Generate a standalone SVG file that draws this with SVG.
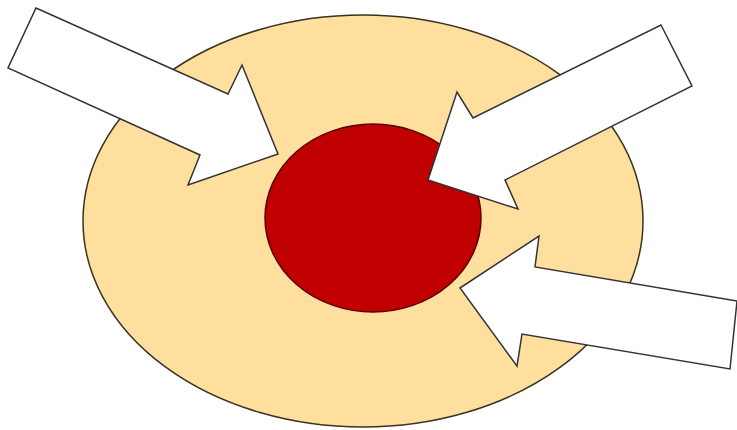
<svg xmlns="http://www.w3.org/2000/svg" width="737" height="430" viewBox="0 0 737 430">
<style>
.arrow{fill:#ffffff;stroke:#333333;stroke-width:1.5;stroke-linejoin:miter}
</style>
<rect width="737" height="430" fill="#ffffff"/>
<g id="outer">
<ellipse cx="363" cy="221" rx="280" ry="206" fill="#fedf9e" stroke="#3a3320" stroke-width="1.5"/>
</g>
<g id="core">
<ellipse cx="373" cy="218" rx="108" ry="94" fill="#c00000" stroke="#5a0000" stroke-width="1.5"/>
</g>
<g id="connectors">
<polygon class="arrow" points="36,8 228,94 242,65 278,154 188,185 200,155 8,68"/>
<polygon class="arrow" points="661,25 692,86 505,180 518,209 428,180 457,92 473,118"/>
<polygon class="arrow" points="460,288 539,236 535,267 737,301 730,369 522,334 517,366"/>
</g>
</svg>
